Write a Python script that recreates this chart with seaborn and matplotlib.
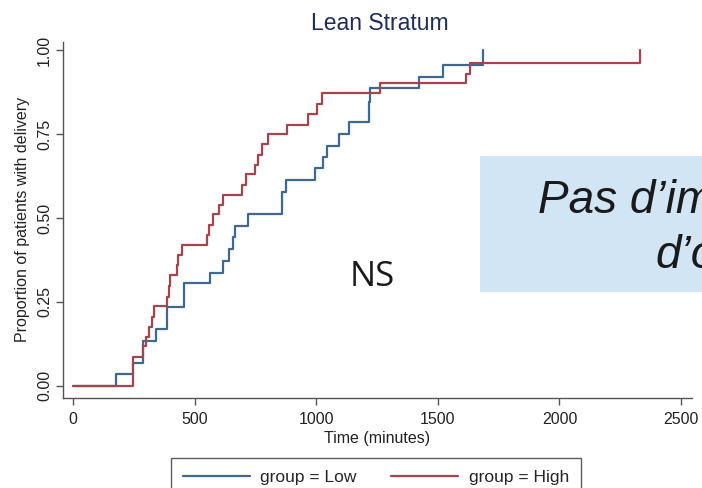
import matplotlib
matplotlib.use("Agg")
import matplotlib.pyplot as plt
import seaborn as sns
import pandas as pd
from matplotlib.patches import Rectangle
from matplotlib.lines import Line2D

# ---- data ----
low_time = [0, 177, 245, 289, 341, 388, 456, 563, 618, 643, 659, 666, 721, 858, 876,
            995, 1029, 1043, 1095, 1136, 1215, 1221, 1424, 1523, 1685]
low_prop = [0.0, 0.034, 0.067, 0.135, 0.169, 0.236, 0.306, 0.337, 0.373, 0.407, 0.444,
            0.476, 0.511, 0.578, 0.613, 0.648, 0.682, 0.714, 0.749, 0.786, 0.845, 0.886,
            0.921, 0.955, 1.0]

high_time = [0, 245, 289, 300, 314, 323, 334, 385, 393, 399, 426, 433, 447, 550, 560,
             577, 600, 615, 693, 711, 748, 762, 776, 803, 878, 968, 1002, 1022, 1262,
             1616, 1633, 2331]
high_prop = [0.0, 0.087, 0.119, 0.147, 0.176, 0.206, 0.238, 0.266, 0.298, 0.330, 0.360,
             0.390, 0.420, 0.449, 0.479, 0.511, 0.540, 0.568, 0.598, 0.630, 0.658, 0.688,
             0.719, 0.749, 0.778, 0.810, 0.839, 0.871, 0.901, 0.930, 0.960, 1.0]

groups = ["group = Low", "group = High"]
x_ticks = [0, 500, 1000, 1500, 2000, 2500]
y_ticks = [0.0, 0.25, 0.50, 0.75, 1.00]
y_tick_labels = ["0.00", "0.25", "0.50", "0.75", "1.00"]

df = pd.concat([
    pd.DataFrame({"time": low_time, "prop": low_prop, "group": groups[0]}),
    pd.DataFrame({"time": high_time, "prop": high_prop, "group": groups[1]}),
], ignore_index=True)

colors = {groups[0]: "#3d6794", groups[1]: "#a6434c"}

sns.set_theme(style="white")
plt.rcParams["font.family"] = ["Liberation Sans", "DejaVu Sans"]

fig = plt.figure(figsize=(7.02, 4.88), dpi=100)
ax = fig.add_axes([63 / 702, 1 - 398 / 488, (692 - 63) / 702, (398 - 41.6) / 488])

sns.lineplot(data=df, x="time", y="prop", hue="group", palette=colors,
             drawstyle="steps-post", estimator=None, sort=True,
             linewidth=1.6, legend=False, ax=ax)

ax.set_xlim(-41, 2545)
ax.set_ylim(-0.036, 1.025)
ax.set_xticks(x_ticks)
ax.set_xticklabels([str(t) for t in x_ticks], fontsize=11.5, color="#222222")
ax.set_yticks(y_ticks)
ax.set_yticklabels(y_tick_labels, fontsize=11.5, color="#222222", rotation=90, va="center")
ax.set_xlabel("Time (minutes)", fontsize=11.5, color="#222222", labelpad=3)
ax.set_ylabel("Proportion of patients with delivery", fontsize=11.5, color="#222222", labelpad=5)

for s in ["top", "right"]:
    ax.spines[s].set_visible(False)
for s in ["left", "bottom"]:
    ax.spines[s].set_color("#555555")
    ax.spines[s].set_linewidth(1.0)
ax.tick_params(axis="x", direction="out", length=5, width=1, color="#555555",
               bottom=True, pad=5)
ax.tick_params(axis="y", direction="out", length=5, width=1, color="#555555",
               left=True, pad=3)

fig.text(380 / 702, 1 - 23 / 488, "Lean Stratum", ha="center", va="center",
         fontsize=16.5, color="#1f2d5c")

# legend
handles = [Line2D([0], [0], color=colors[g], lw=1.6) for g in groups]
leg = fig.legend(handles, groups, loc="upper center", ncol=2,
                 bbox_to_anchor=(376 / 702, 1 - 458 / 488), frameon=True,
                 fancybox=False, fontsize=12.5, handlelength=3.85, columnspacing=2.0,
                 handletextpad=0.6, borderpad=0.7, borderaxespad=0)
leg.get_frame().set_edgecolor("#333333")
leg.get_frame().set_linewidth(1.0)

# overlay annotations
fig.patches.append(Rectangle((480 / 702, 1 - 292 / 488), (702 - 480) / 702, (292 - 156) / 488,
                             transform=fig.transFigure, facecolor="#d2e5f5",
                             edgecolor="none", zorder=5))
fig.text(538 / 702, 1 - 213 / 488, "Pas d’im", fontsize=33, style="italic",
         color="#1a1a1a", ha="left", va="baseline", zorder=6)
fig.text(655 / 702, 1 - 268 / 488, "d’o", fontsize=33, style="italic",
         color="#1a1a1a", ha="left", va="baseline", zorder=6)
fig.text(372 / 702, 1 - 277 / 488, "NS", fontsize=25, family="Open Sans",
         color="#1a1a1a", ha="center", va="center", zorder=6)

fig.savefig("out.png", dpi=100)
